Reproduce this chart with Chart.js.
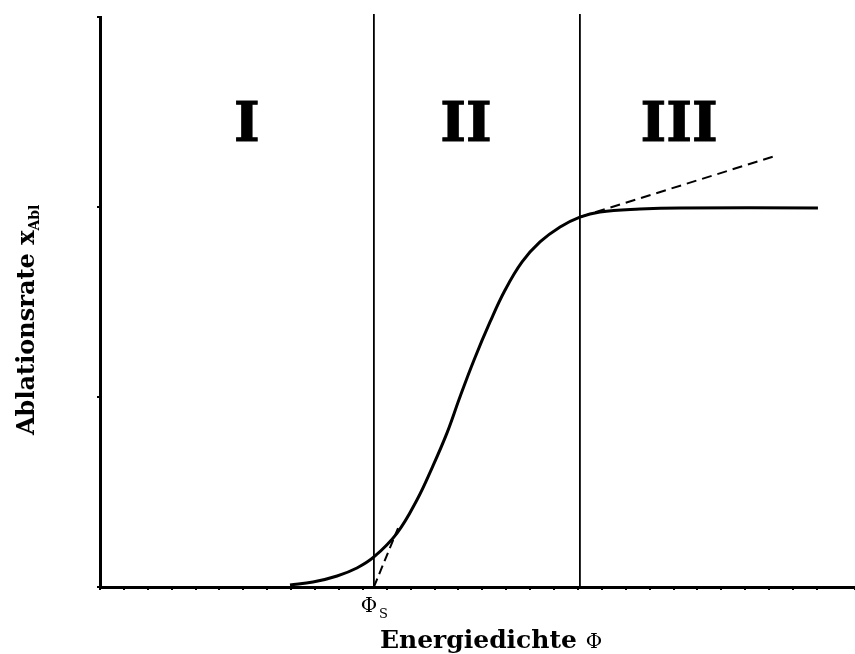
<!DOCTYPE html>
<html>
<head>
<meta charset="utf-8">
<script src="https://cdn.jsdelivr.net/npm/chart.js@4/dist/chart.umd.min.js"></script>
<style>
  html, body { margin: 0; padding: 0; background: #fff; }
  canvas { display: block; }
</style>
</head>
<body>
<canvas id="ablation" width="855" height="654"></canvas>
<script>
// threshold fluence and saturation fluence (x units)
const phiS = 11.46;
const phiSat = 20.08;

// ablation rate curve
const curveX = [7.95, 8.91, 9.92, 10.75, 11.46, 12.43, 13.26, 13.89, 14.52, 15.06, 15.65, 16.32, 16.95, 17.66, 18.41, 19.25, 20.08, 20.92, 22.59, 24.27, 30.04];
const curveY = [0.011, 0.026, 0.058, 0.10, 0.158, 0.284, 0.458, 0.626, 0.811, 1.0, 1.195, 1.395, 1.563, 1.711, 1.816, 1.895, 1.947, 1.974, 1.989, 1.995, 1.995];

// dashed tangents
const tangentLowX = [11.46, 12.47];
const tangentLowY = [0, 0.31];
const tangentHighX = [20.08, 28.24];
const tangentHighY = [1.947, 2.268];

// region boundaries reach a bit past the top of the y axis
const boundaryY = [0, 3.016];

const regionLabels = ['I', 'II', 'III'];

const xMax = 31.59;
const yMax = 3;

const toPoints = (xs, ys) => xs.map((x, i) => ({ x: x, y: ys[i] }));

const SERIF = '"DejaVu Serif", "Liberation Serif", serif';

const textPlugin = {
    id: 'textPlugin',
    afterDraw(chart) {
        const ctx = chart.ctx;
        const xs = chart.scales.x;
        const ys = chart.scales.y;
        ctx.save();
        ctx.fillStyle = '#000';
        ctx.strokeStyle = '#000';

        // region numerals
        const regionX = [6.15, 15.31, 24.23];
        ctx.font = 'bold 55px ' + SERIF;
        ctx.textAlign = 'center';
        ctx.textBaseline = 'alphabetic';
        ctx.lineWidth = 1;
        regionLabels.forEach((label, i) => {
            const px = xs.getPixelForValue(regionX[i]);
            const py = ys.getPixelForValue(2.347);
            ctx.fillText(label, px, py);
            ctx.strokeText(label, px, py);
        });

        // Phi_S marker under the axis
        const sx = xs.getPixelForValue(phiS);
        ctx.font = '20px ' + SERIF;
        ctx.textAlign = 'center';
        ctx.fillText('\u03A6', sx - 5, 612);
        ctx.font = '13px ' + SERIF;
        ctx.textAlign = 'left';
        ctx.fillText('S', sx + 5, 618);

        // x axis title
        ctx.font = 'bold 25px ' + SERIF;
        const xt = 'Energiedichte ';
        const w1 = ctx.measureText(xt).width;
        ctx.font = '20px ' + SERIF;
        const w2 = ctx.measureText('\u03A6').width;
        const start = 491 - (w1 + w2) / 2;
        ctx.font = 'bold 25px ' + SERIF;
        ctx.textAlign = 'left';
        ctx.fillText(xt, start, 648);
        ctx.font = '20px ' + SERIF;
        ctx.fillText('\u03A6', start + w1, 648);

        // y axis title, rotated
        ctx.translate(34, 435);
        ctx.rotate(-Math.PI / 2);
        ctx.font = 'bold 24px ' + SERIF;
        const yt = 'Ablationsrate x';
        ctx.textAlign = 'left';
        ctx.fillText(yt, 0, 0);
        const wy = ctx.measureText(yt).width;
        ctx.font = 'bold 14px ' + SERIF;
        ctx.fillText('Abl', wy, 5);

        ctx.restore();
    }
};

const lineStyle = (color, width, dash) => ({
    borderColor: color,
    borderWidth: width,
    borderDash: dash || [],
    pointRadius: 0,
    fill: false
});

new Chart('ablation', {
    type: 'line',
    data: {
        datasets: [
            Object.assign({
                label: 'Ablationsrate',
                data: toPoints(curveX, curveY),
                tension: 0.4
            }, lineStyle('#000', 3)),
            Object.assign({
                label: 'Tangente unten',
                data: toPoints(tangentLowX, tangentLowY)
            }, lineStyle('#000', 2, [9, 5])),
            Object.assign({
                label: 'Tangente oben',
                data: toPoints(tangentHighX, tangentHighY)
            }, lineStyle('#000', 2, [10, 6])),
            Object.assign({
                label: 'Phi S',
                data: toPoints([phiS, phiS], boundaryY),
                clip: false
            }, lineStyle('#000', 1.8)),
            Object.assign({
                label: 'Phi Sat',
                data: toPoints([phiSat, phiSat], boundaryY),
                clip: false
            }, lineStyle('#000', 1.8))
        ]
    },
    options: {
        responsive: false,
        animation: false,
        layout: { padding: { left: 97, top: 17, right: 0, bottom: 64 } },
        plugins: {
            legend: { display: false },
            tooltip: { enabled: false }
        },
        scales: {
            x: {
                type: 'linear',
                min: 0,
                max: xMax,
                ticks: { display: false, stepSize: 1 },
                grid: { drawOnChartArea: false, drawTicks: true, tickLength: 3, color: '#000', lineWidth: 2 },
                border: { color: '#000', width: 3 }
            },
            y: {
                type: 'linear',
                min: 0,
                max: yMax,
                ticks: { display: false, stepSize: 1 },
                grid: { drawOnChartArea: false, drawTicks: true, tickLength: 3, color: '#000', lineWidth: 2 },
                border: { color: '#000', width: 3 }
            }
        }
    },
    plugins: [textPlugin]
});
</script>
</body>
</html>
